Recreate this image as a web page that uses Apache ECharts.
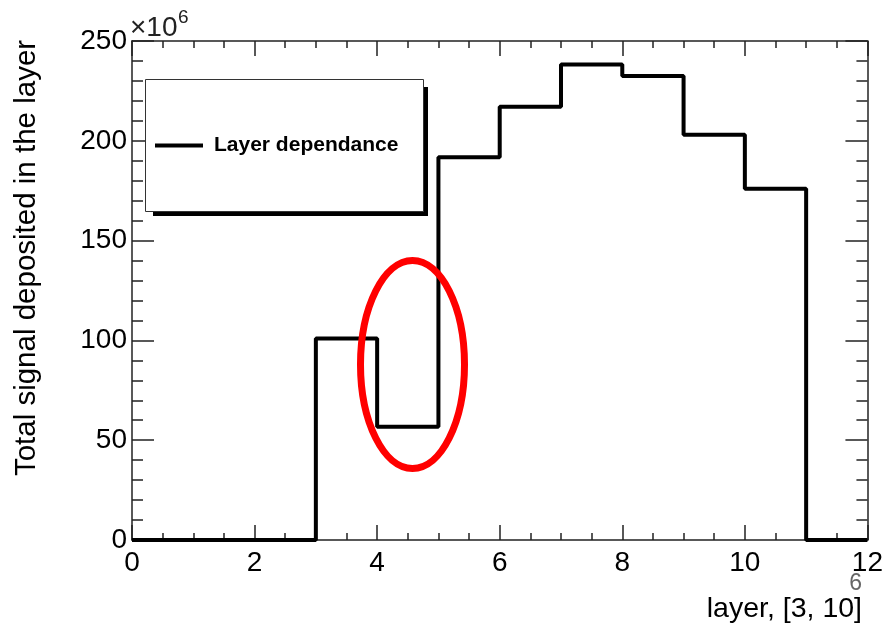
<!DOCTYPE html>
<html>
<head>
<meta charset="utf-8">
<script src="https://cdn.jsdelivr.net/npm/echarts@6/dist/echarts.min.js"></script>
<style>
html,body{margin:0;padding:0;background:#fff;}
#c{width:886px;height:629px;}
</style>
</head>
<body>
<div id="c"></div>
<script>
// Bin edges (layer) and histogram contents (×10^6)
var binEdges = [0, 1, 2, 3, 4, 5, 6, 7, 8, 9, 10, 11, 12];
var binValues = [0, 0, 0, 101, 56.8, 191.8, 217, 238.2, 232.5, 203, 176, 0];
var xTicks = [0, 2, 4, 6, 8, 10, 12];
var yTicks = [0, 50, 100, 150, 200, 250];
var seriesName = 'Layer dependance';
var xTitle = 'layer, [3, 10]';
var yTitle = 'Total signal deposited in the layer';

// step-line data: each bin's left edge with its value, closed at the last edge
var stepData = [];
for (var i = 0; i < binValues.length; i++) stepData.push([binEdges[i], binValues[i]]);
stepData.push([binEdges[binEdges.length - 1], binValues[binValues.length - 1]]);

var FONT = 'Liberation Sans';
var axisCol = '#222';

function xAxisCfg(pos, showLabel) {
  return {
    type: 'value', position: pos, min: xTicks[0], max: xTicks[xTicks.length - 1],
    interval: xTicks[1] - xTicks[0],
    axisLine: { show: true, onZero: false, lineStyle: { color: axisCol, width: 1.5 } },
    axisTick: { show: true, inside: true, length: 15, lineStyle: { color: axisCol, width: 1.5 } },
    minorTick: { show: true, splitNumber: 4, length: 7, lineStyle: { color: axisCol, width: 1.5 } },
    splitLine: { show: false },
    axisLabel: { show: showLabel, margin: 9, color: '#000', fontFamily: FONT, fontSize: 28, showMinLabel: true, showMaxLabel: true }
  };
}
function yAxisCfg(pos, showLabel) {
  return {
    type: 'value', position: pos, min: yTicks[0], max: yTicks[yTicks.length - 1],
    interval: yTicks[1] - yTicks[0],
    axisLine: { show: true, onZero: false, lineStyle: { color: axisCol, width: 1.5 } },
    axisTick: { show: true, inside: true, length: 22, lineStyle: { color: axisCol, width: 1.5 } },
    minorTick: { show: true, splitNumber: 5, length: 11, lineStyle: { color: axisCol, width: 1.5 } },
    splitLine: { show: false },
    axisLabel: { show: showLabel, margin: 5, color: '#000', fontFamily: FONT, fontSize: 28, showMinLabel: true, showMaxLabel: true }
  };
}

var chart = echarts.init(document.getElementById('c'), null, { renderer: 'canvas' });
chart.setOption({
  animation: false,
  backgroundColor: '#fff',
  grid: { left: 132, right: 18.5, top: 41, bottom: 89, containLabel: false },
  xAxis: [xAxisCfg('bottom', true), xAxisCfg('top', false)],
  yAxis: [yAxisCfg('left', true), yAxisCfg('right', false)],
  legend: {
    show: true, left: 155, top: 135, orient: 'vertical', padding: 0,
    itemWidth: 48, itemHeight: 4, icon: 'rect',
    data: [{ name: seriesName, icon: 'rect', itemStyle: { color: '#000' } }],
    textStyle: { fontFamily: FONT, fontSize: 21, fontWeight: 'bold', color: '#000', padding: [0, 0, 0, 6] },
    z: 20
  },
  graphic: [
    { type: 'rect', z: 10, shape: { x: 153, y: 87, width: 275, height: 129 }, style: { fill: '#000' } },
    { type: 'rect', z: 11, shape: { x: 145.5, y: 79.5, width: 278, height: 132 }, style: { fill: '#fff', stroke: '#333', lineWidth: 1 } },
    { type: 'ellipse', z: 30, shape: { cx: 412.5, cy: 364.5, rx: 52, ry: 104 }, style: { fill: 'none', stroke: '#ff0000', lineWidth: 7 } },
    { type: 'text', z: 30, x: 27, y: 258, rotation: Math.PI / 2,
      style: { text: yTitle, font: '29.5px "' + FONT + '"', fill: '#000', align: 'center', verticalAlign: 'middle' } },
    { type: 'text', z: 30, x: 862, y: 609,
      style: { text: xTitle, font: '28.5px "' + FONT + '"', fill: '#000', align: 'right', verticalAlign: 'middle' } },
    { type: 'text', z: 30, x: 862, y: 584,
      style: { text: '6', font: '23px "' + FONT + '"', fill: '#666', align: 'right', verticalAlign: 'middle' } },
    { type: 'text', z: 30, x: 130, y: 28,
      style: { text: '×10', font: '28px "' + FONT + '"', fill: '#222', align: 'left', verticalAlign: 'middle' } },
    { type: 'text', z: 30, x: 178, y: 18,
      style: { text: '6', font: '19px "' + FONT + '"', fill: '#222', align: 'left', verticalAlign: 'middle' } }
  ],
  series: [{
    name: seriesName, type: 'line', step: 'end', data: stepData,
    xAxisIndex: 0, yAxisIndex: 0,
    symbol: 'none', clip: false,
    lineStyle: { color: '#000', width: 4 },
    itemStyle: { color: '#000' },
    z: 5
  }]
});
</script>
</body>
</html>
